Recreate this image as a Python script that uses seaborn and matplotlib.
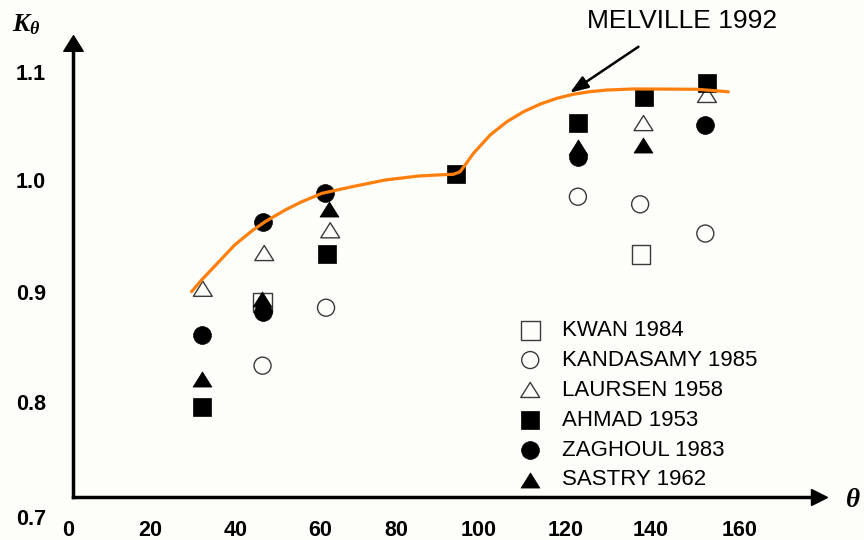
import numpy as np
import pandas as pd
import matplotlib
matplotlib.use("Agg")
import matplotlib.pyplot as plt
import matplotlib.transforms as mtrans
from matplotlib.path import Path
import seaborn as sns

# ---------------- data ----------------
kwan_theta = [45.5, 136.1]
kwan_k = [0.879, 0.924]

kandasamy_theta = [45.5, 60.7, 121.0, 135.9, 151.5]
kandasamy_k = [0.821, 0.8745, 0.977, 0.970, 0.943]

laursen_theta = [31.2, 45.9, 61.7, 136.7, 151.9]
laursen_k = [0.892, 0.925, 0.946, 1.045, 1.071]

ahmad_theta = [30.9, 61.0, 91.8, 121.1, 136.9, 151.9]
ahmad_k = [0.783, 0.924, 0.998, 1.045, 1.069, 1.082]

zaghoul_theta = [30.9, 45.6, 45.7, 60.5, 121.1, 151.5]
zaghoul_k = [0.849, 0.871, 0.954, 0.980, 1.014, 1.043]

sastry_theta = [30.9, 45.4, 61.3, 121.0, 136.7]
sastry_k = [0.809, 0.883, 0.966, 1.023, 1.025]

melville_theta = [28.5, 30.9, 34.9, 38.9, 42.9, 46.1, 50.9, 54.9, 59.7, 66.9,
                  74.8, 82.8, 88.0, 91.2, 92.8, 94.0, 96.0, 100.0, 104.0,
                  108.0, 112.0, 116.0, 119.9, 123.9, 127.9, 134.3, 141.5,
                  149.5, 157.0]
melville_k = [0.8893, 0.9001, 0.9164, 0.9327, 0.9453, 0.9539, 0.9647, 0.9724,
              0.9801, 0.9862, 0.9924, 0.9961, 0.9972, 0.9977, 1.0001, 1.0063,
              1.0171, 1.0340, 1.0463, 1.0555, 1.0626, 1.0679, 1.0716, 1.0740,
              1.0755, 1.0765, 1.0764, 1.0762, 1.0739]

x_ticks = [0, 20, 40, 60, 80, 100, 120, 140, 160]
y_ticks = [0.7, 0.8, 0.9, 1.0, 1.1]
y_tick_labels = ["0.7", "0.8", "0.9", "1.0", "1.1"]

series_names = ["KWAN 1984", "KANDASAMY 1985", "LAURSEN 1958",
                "AHMAD 1953", "ZAGHOUL 1983", "SASTRY 1962"]
curve_name = "MELVILLE 1992"

# ---------------- style ----------------
sns.set_theme(style="white")
plt.rcParams["font.family"] = ["Liberation Sans", "DejaVu Sans"]
plt.rcParams["mathtext.fontset"] = "custom"
plt.rcParams["mathtext.it"] = "Liberation Serif:bold:italic"
plt.rcParams["mathtext.rm"] = "Liberation Serif:bold"
plt.rcParams["mathtext.bf"] = "Liberation Serif:bold"

BG = "#fdfdf9"
tri = Path([(-1, -0.8), (1, -0.8), (0, 0.8), (-1, -0.8)],
           [Path.MOVETO, Path.LINETO, Path.LINETO, Path.CLOSEPOLY])

fig = plt.figure(figsize=(8.64, 5.4), dpi=100, facecolor=BG)
ax = fig.add_axes([72.5 / 864, 43.3 / 540, (818.5 - 72.5) / 864, (496.7 - 42.5) / 540])
ax.set_facecolor(BG)

hollow = dict(facecolor="none", edgecolor="#3a3a3a", linewidth=1.0)
filled = dict(color="black", edgecolor="black", linewidth=0.5)

specs = [
    (kwan_theta, kwan_k, "s", 185, hollow),
    (kandasamy_theta, kandasamy_k, "o", 150, hollow),
    (laursen_theta, laursen_k, tri, 185, hollow),
    (ahmad_theta, ahmad_k, "s", 185, filled),
    (zaghoul_theta, zaghoul_k, "o", 165, filled),
    (sastry_theta, sastry_k, tri, 185, filled),
]
for name, (xs, ys, mk, size, st) in zip(series_names, specs):
    df = pd.DataFrame({"theta": xs, "k": ys})
    sns.scatterplot(data=df, x="theta", y="k", marker=mk, s=size, ax=ax,
                    label=name, zorder=3, **st)

curve = pd.DataFrame({"theta": melville_theta, "k": melville_k})
sns.lineplot(data=curve, x="theta", y="k", ax=ax, color="#ff7f0e", lw=2.3,
             sort=False, estimator=None, zorder=4, legend=False,
             solid_joinstyle="round", solid_capstyle="round")

ax.set_xlim(0, 178.6)
ax.set_ylim(0.7, 1.1194)
ax.set_xticks(x_ticks)
ax.set_yticks(y_ticks)
ax.set_yticklabels(y_tick_labels)
ax.set_xlabel("")
ax.set_ylabel("")

for s in ["top", "right"]:
    ax.spines[s].set_visible(False)
for s in ["left", "bottom"]:
    ax.spines[s].set_color("black")
    ax.spines[s].set_linewidth(2.5)

ax.tick_params(axis="y", direction="inout", length=14, width=2.2, color="black",
               pad=12, labelsize=15.5, labelcolor="black")
ax.tick_params(axis="x", direction="inout", length=8, width=2.2, color="black",
               pad=12.5, labelsize=15.5, labelcolor="black")
for lab in ax.get_xticklabels() + ax.get_yticklabels():
    lab.set_fontweight("bold")

# axis arrow heads
ax.plot([0], [1], marker=tri, ms=14, color="black",
        transform=ax.transAxes, clip_on=False, zorder=6)
ax.plot([1], [0], marker=">", ms=12, color="black",
        transform=ax.transAxes, clip_on=False, zorder=6)

# annotation
ax.annotate("", xy=(119.1, 1.073), xytext=(135.5, 1.1155),
            arrowprops=dict(arrowstyle="-|>,head_length=0.55,head_width=0.2",
                            color="black", lw=1.8, mutation_scale=20,
                            shrinkA=0, shrinkB=0),
            annotation_clip=False)
ax.text(145.9, 1.1392, curve_name, ha="center", va="center", fontsize=19,
        color="black", clip_on=False)

# axis titles
fig.text(11.7 / 864, 1 - 12.5 / 540, r"$K_\theta$", ha="left", va="top",
         fontsize=18.5, color="black")
fig.text(853 / 864, 1 - 500 / 540, r"$\theta$", ha="center", va="center",
         fontsize=19.5, color="black")

# legend
handles, labels = ax.get_legend_handles_labels()
leg = ax.legend(handles, labels, loc="upper left",
                bbox_to_anchor=((508 - 72.5) / 746, (496.7 - 320) / 454.2),
                frameon=False, fontsize=16, handletextpad=0.45,
                handlelength=2.0, labelspacing=0.4, borderpad=0,
                borderaxespad=0, scatterpoints=1)
for t in leg.get_texts():
    t.set_color("black")

# small per-label nudges, as in the reference
fig.canvas.draw()
x_dx = [-4, -6, -4, -3, -10, -12, -8, -7, -1]
y_dy = [-20, -14, -12, -8, -8]
for lab, dx in zip(ax.get_xticklabels(), x_dx):
    lab.set_transform(lab.get_transform() + mtrans.ScaledTranslation(dx / 100, 0, fig.dpi_scale_trans))
for lab, dy in zip(ax.get_yticklabels(), y_dy):
    lab.set_transform(lab.get_transform() + mtrans.ScaledTranslation(0, dy / 100, fig.dpi_scale_trans))

fig.savefig("out.png", dpi=100, facecolor=BG)
